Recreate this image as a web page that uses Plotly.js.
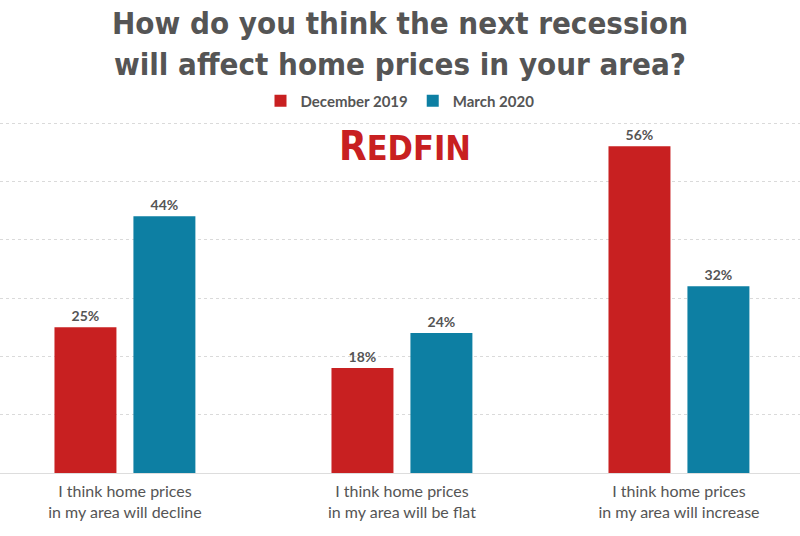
<!DOCTYPE html>
<html>
<head>
<meta charset="utf-8">
<script src="https://cdn.plot.ly/plotly-3.0.1.min.js"></script>
<style>
  html, body { margin: 0; padding: 0; background: #fff; }
  #chart { width: 800px; height: 536px; }
</style>
</head>
<body>
<div id="chart"></div>
<script>
// survey answers, share of respondents (%)
const categories = [
  'I think home prices<br>in my area will decline',
  'I think home prices<br>in my area will be flat',
  'I think home prices<br>in my area will increase'
];
const dec2019 = [25, 18, 56];
const mar2020 = [44, 24, 32];
const titleLines = [
  'How do you think the next recession',
  'will affect home prices in your area?'
];

const red = '#c82021';
const blue = '#0d7fa3';
const grey = '#555555';

const makeTrace = (name, values, color) => ({
  type: 'bar',
  name: name,
  x: categories,
  y: values,
  marker: { color: color },
  text: values.map(v => v + '%'),
  textposition: 'outside',
  textfont: { family: 'Lato', size: 14, color: grey, weight: 'bold' },
  cliponaxis: false,
  hoverinfo: 'none'
});

const traces = [
  makeTrace('December 2019', dec2019, red),
  makeTrace('March 2020', mar2020, blue)
];

// plot area bottom sits at y=473 px; 60% line at y=123 px
const yMax = 60.35;
const plotBottom = 473;
const plotTop = Math.round(plotBottom - 350 / 60 * yMax);
const paperY = px => (plotBottom - px) / (plotBottom - plotTop);

const titleNotes = titleLines.map((t, i) => ({
  xref: 'paper', yref: 'paper',
  x: 0.5, y: paperY(23 + i * 41),
  xanchor: 'center', yanchor: 'middle',
  showarrow: false,
  text: t,
  font: { family: 'DejaVu Sans Condensed', size: 31, color: grey, weight: 'bold' }
}));

const layout = {
  width: 800,
  height: 536,
  margin: { l: 0, r: 0, t: plotTop, b: 536 - plotBottom },
  paper_bgcolor: '#fff',
  plot_bgcolor: '#fff',
  font: { family: 'Lato', color: grey },
  showlegend: true,
  legend: {
    orientation: 'h',
    x: 0.5,
    xanchor: 'center',
    y: paperY(101),
    yanchor: 'middle',
    font: { family: 'Lato', size: 15, color: grey, weight: 'bold' },
    itemwidth: 30,
    traceorder: 'normal'
  },
  barmode: 'group',
  bargap: 0.43,
  bargroupgap: 0.215,
  xaxis: {
    range: [-0.451, 2.437],
    showgrid: false,
    showline: true,
    linecolor: '#dddddd',
    linewidth: 1,
    ticks: '',
    ticklabelstandoff: 4,
    tickfont: { family: 'Lato', size: 16, color: grey },
    fixedrange: true
  },
  yaxis: {
    range: [0, yMax],
    dtick: 10,
    showticklabels: false,
    showgrid: true,
    gridcolor: '#dadada',
    griddash: 'dot',
    gridwidth: 1,
    zeroline: false,
    fixedrange: true
  },
  annotations: titleNotes.concat([
    {
      xref: 'paper', yref: 'paper',
      x: 0.506, y: paperY(146),
      xanchor: 'center', yanchor: 'middle',
      showarrow: false,
      text: 'R<span style="font-size:34px">EDFIN</span>',
      font: { family: 'DejaVu Sans Condensed', size: 40, color: red, weight: 'bold' }
    }
  ])
};

Plotly.newPlot('chart', traces, layout, { displayModeBar: false, staticPlot: true });
</script>
</body>
</html>
